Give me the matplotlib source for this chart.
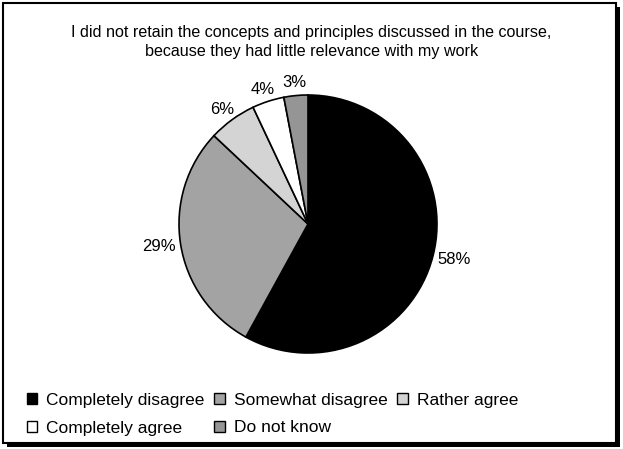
import numpy as np
import matplotlib
matplotlib.use("Agg")
import matplotlib.pyplot as plt
from matplotlib.patches import Rectangle, Patch

plt.rcParams['font.family'] = ['Liberation Sans', 'DejaVu Sans']

title = "I did not retain the concepts and principles discussed in the course,\nbecause they had little relevance with my work"
categories = ["Completely disagree", "Somewhat disagree", "Rather agree",
              "Completely agree", "Do not know"]
values = [58, 29, 6, 4, 3]
colors = ["#000000", "#a3a3a3", "#d4d4d4", "#ffffff", "#959595"]

W, H = 623, 449
fig = plt.figure(figsize=(W / 100, H / 100), dpi=100)
fig.patch.set_facecolor("white")

# frame with shadow
fig.patches.append(Rectangle((7 / W, 1 - 447 / H), 613 / W, 440 / H,
                             transform=fig.transFigure, facecolor="black",
                             edgecolor="none", zorder=0))
fig.patches.append(Rectangle((3 / W, 1 - 443 / H), 613 / W, 440 / H,
                             transform=fig.transFigure, facecolor="white",
                             edgecolor="black", linewidth=1.5, zorder=1))

cx, cy, r = 308, 224, 129
ax = fig.add_axes([(cx - r) / W, (H - cy - r) / H, 2 * r / W, 2 * r / H])
ax.set_zorder(2)
wedges, texts, autotexts = ax.pie(
    values, colors=colors, startangle=90, counterclock=False,
    autopct=lambda p: f"{p:.0f}%", pctdistance=1.04,
    wedgeprops=dict(edgecolor="black", linewidth=1.2),
    textprops=dict(fontsize=12, color="black"))
ax.set_aspect("equal")
ax.set_xlim(-1, 1)
ax.set_ylim(-1, 1)

# push each label outward so its box sits just outside the pie edge
fig.canvas.draw()
renderer = fig.canvas.get_renderer()
for w, t in zip(wedges, autotexts):
    ang = np.deg2rad((w.theta1 + w.theta2) / 2)
    bb = t.get_window_extent(renderer)
    hw = bb.width / 2 / r
    hh = bb.height / 2 / r
    x0, y0 = t.get_position()
    t.set_position((x0 + np.cos(ang) * hw, y0 + np.sin(ang) * hh))
    t.set_ha("center")
    t.set_va("center")

fig.text(0.5, 1 - 42 / H, title, ha="center", va="center", fontsize=11.6,
         linespacing=1.35, zorder=3)

handles = [Patch(facecolor=c, edgecolor="black", linewidth=1.0) for c in colors]
order = [0, 3, 1, 4, 2]
leg = fig.legend([handles[i] for i in order], [categories[i] for i in order],
                 ncol=3, loc="upper left",
                 bbox_to_anchor=(27 / W, 1 - 393 / H), frameon=False,
                 fontsize=12.5, handlelength=0.6, handleheight=0.6,
                 handletextpad=0.52, columnspacing=0.55, labelspacing=0.72,
                 borderaxespad=0, borderpad=0)
leg.set_zorder(3)

fig.savefig("out.png", dpi=100)
